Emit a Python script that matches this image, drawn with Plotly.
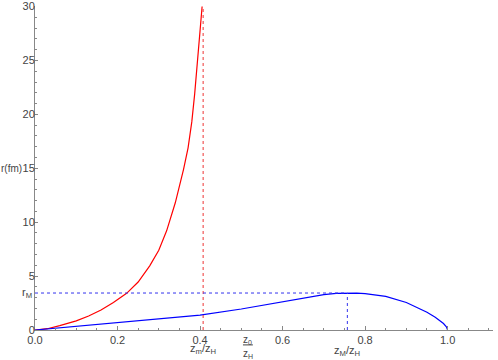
import plotly.graph_objects as go

# red curve (diverges at z_m/z_H)
red_x = [0, 0.03, 0.06, 0.1, 0.13, 0.16, 0.19, 0.222, 0.25, 0.278, 0.3, 0.319,
         0.34, 0.351, 0.36, 0.371, 0.38, 0.387, 0.395, 0.4, 0.405]
red_r = [0, 0.12, 0.4, 0.85, 1.3, 1.85, 2.55, 3.4, 4.45, 5.95, 7.4, 9.2,
         11.8, 13.4, 14.9, 16.9, 19.3, 21.9, 25.3, 27.6, 30.0]

# blue curve
blue_x = [0, 0.1, 0.2, 0.3, 0.4, 0.5, 0.6, 0.65, 0.7, 0.73, 0.757, 0.78, 0.8,
          0.85, 0.9, 0.93, 0.95, 0.97, 0.98, 0.99, 0.997, 1.0]
blue_r = [0, 0.33, 0.72, 1.02, 1.38, 1.95, 2.65, 3.0, 3.28, 3.39, 3.43, 3.42, 3.38,
          3.12, 2.55, 2.05, 1.65, 1.18, 0.92, 0.6, 0.3, 0]

z_m = 0.4075
z_M = 0.757
z_0 = 0.516
r_M = 3.43

x_ticks = [0.0, 0.2, 0.4, 0.6, 0.8, 1.0]
y_ticks = [0, 5, 10, 15, 20, 25, 30]

fig = go.Figure()
fig.add_scatter(x=red_x, y=red_r, mode="lines", line=dict(color="#ff0000", width=1.2))
fig.add_scatter(x=blue_x, y=blue_r, mode="lines", line=dict(color="#0000ff", width=1.2))
# guide lines
fig.add_scatter(x=[z_m, z_m], y=[0, 30], mode="lines",
                line=dict(color="#ee3333", width=1, dash="dot"))
fig.add_scatter(x=[0, z_M], y=[r_M, r_M], mode="lines",
                line=dict(color="#3333ee", width=1, dash="dot"))
fig.add_scatter(x=[z_M, z_M], y=[0, r_M], mode="lines",
                line=dict(color="#3333ee", width=1, dash="dot"))

font = dict(family="Liberation Sans, Arial, sans-serif", size=11, color="#444")

fig.update_xaxes(range=[0, 1.11], tickvals=x_ticks, ticktext=["%.1f" % v for v in x_ticks],
                 showgrid=False, zeroline=False, showline=True, linecolor="#888",
                 linewidth=1, ticks="inside", ticklen=4, tickcolor="#888",
                 minor=dict(dtick=0.05, ticks="inside", ticklen=2, tickcolor="#888"),
                 tickfont=font, automargin=False)
fig.update_yaxes(range=[0, 30.05], tickvals=y_ticks, showgrid=False, zeroline=False,
                 showline=True, linecolor="#888", linewidth=1, ticks="inside",
                 ticklen=3, tickcolor="#888", ticklabelstandoff=-3,
                 minor=dict(dtick=1, ticks="inside", ticklen=2, tickcolor="#888"),
                 tickfont=font, automargin=False)

fig.add_annotation(x=0, y=15, xref="paper", yref="y", text="r(fm)", showarrow=False,
                   xanchor="right", xshift=-11, font=dict(font, size=10))
fig.add_annotation(x=0, y=r_M, xref="paper", yref="y", text="r<sub>M</sub>",
                   showarrow=False, xanchor="right", xshift=-1, font=font)
fig.add_annotation(x=z_m, y=-0.06, xref="x", yref="paper", text="z<sub>m</sub>/z<sub>H</sub>",
                   showarrow=False, yanchor="middle", font=font)
fig.add_annotation(x=z_M, y=-0.065, xref="x", yref="paper", text="z<sub>M</sub>/z<sub>H</sub>",
                   showarrow=False, yanchor="middle", font=font)
fig.add_annotation(x=z_0, y=-0.03, xref="x", yref="paper", text="z<sub>0</sub>",
                   showarrow=False, yanchor="middle", font=dict(font, size=10))
fig.add_annotation(x=z_0, y=-0.075, xref="x", yref="paper", text="z<sub>H</sub>",
                   showarrow=False, yanchor="middle", font=dict(font, size=10))
fig.add_shape(type="line", xref="x", yref="paper", x0=z_0 - 0.012, x1=z_0 + 0.012,
              y0=-0.046, y1=-0.046, line=dict(color="#444", width=1))

fig.update_layout(width=498, height=360, showlegend=False,
                  margin=dict(l=35, r=5, t=6, b=30, autoexpand=False),
                  plot_bgcolor="white", paper_bgcolor="white")

fig.write_html("out.html", config={"displayModeBar": False},
               post_script="document.body.style.margin='0';")
